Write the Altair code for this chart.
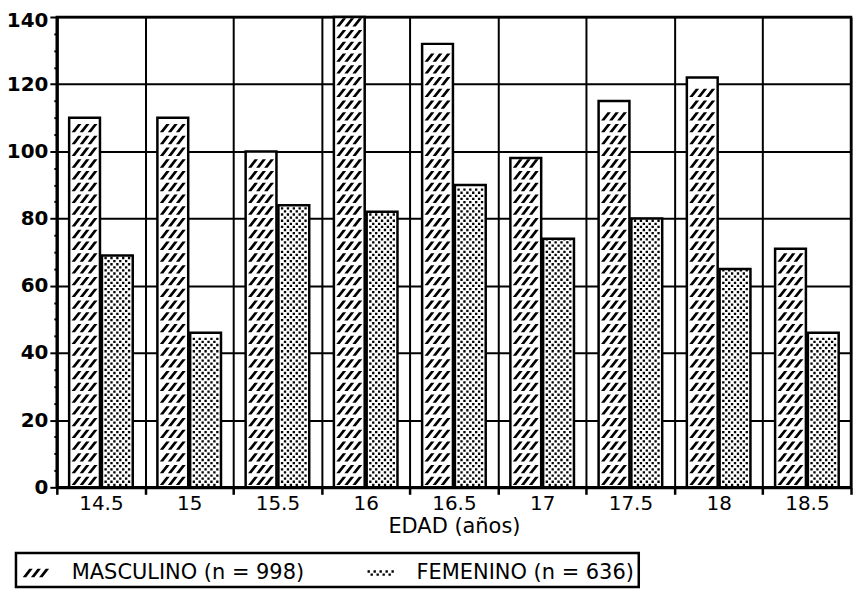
import altair as alt
import pandas as pd

# ---- data ----
edades = ["14.5", "15", "15.5", "16", "16.5", "17", "17.5", "18", "18.5"]
masculino = [110, 110, 100, 140, 132, 98, 115, 122, 71]
femenino = [69, 46, 84, 82, 90, 74, 80, 65, 46]
serie_m = "MASCULINO (n = 998)"
serie_f = "FEMENINO (n = 636)"
y_ticks = list(range(0, 141, 5))

rows = []
for e, m, f in zip(edades, masculino, femenino):
    rows.append({"edad": e, "sexo": serie_m, "valor": m})
    rows.append({"edad": e, "sexo": serie_f, "valor": f})
df = pd.DataFrame(rows)

FONT = "DejaVu Sans"


# ---- fill patterns as custom symbol paths (one row of pattern per symbol) ----
def dash(cx, w=0.11):
    return (f"M{cx-0.21-w:.3f},0.27L{cx-0.21+w:.3f},0.27L{cx+0.21+w:.3f},-0.27"
            f"L{cx+0.21-w:.3f},-0.27Z")


def dot(cx, cy, h=0.075):
    return f"M{cx-h:.3f},{cy-h:.3f}h{2*h:.3f}v{2*h:.3f}h{-2*h:.3f}Z"


hatch_path = "".join(dash(c) for c in (-0.52, 0.0, 0.52))
dots_path = "".join(dot(c, -0.1) for c in (-0.76, -0.38, 0.0, 0.38, 0.76)) + \
    "".join(dot(c, 0.1) for c in (-0.57, -0.19, 0.19, 0.57))

x_enc = alt.X(
    "edad:N",
    sort=edades,
    scale=alt.Scale(paddingInner=0, paddingOuter=0),
    axis=alt.Axis(
        tickBand="extent", grid=True, gridColor="black", gridWidth=2,
        gridOpacity=1, domainColor="black", domainWidth=3,
        tickColor="black", tickWidth=2.5, tickSize=7, labelAngle=0,
        labelFontSize=20, labelColor="black", labelPadding=-1,
        title="EDAD (años)", titleFontSize=21, titleFontWeight="normal",
        titleColor="black", titlePadding=2,
    ),
)
xoff_enc = alt.XOffset(
    "sexo:N", sort=[serie_m, serie_f],
    scale=alt.Scale(domain=[serie_m, serie_f], paddingInner=0.06, paddingOuter=0.376),
)

y_axis = alt.Axis(
    values=y_ticks,
    labelExpr="datum.value % 20 == 0 ? datum.label : ''",
    tickSize={"condition": {"test": "datum.value % 20 == 0", "value": 7}, "value": 3},
    gridOpacity={"condition": {"test": "datum.value % 20 == 0", "value": 1}, "value": 0},
    labelOffset={"condition": {"test": "datum.value == 140", "value": 4}, "value": 0},
    gridColor="black", gridWidth=2, domainColor="black", domainWidth=3,
    tickColor="black", tickWidth=2, labelFontSize=20, labelFontWeight="bold",
    labelColor="black", labelPadding=2, title=None,
)
y_scale = alt.Scale(domain=[0, 140], nice=False)

bars = alt.Chart(df).mark_bar(fill="white", stroke="black", strokeWidth=2.5).encode(
    x=x_enc,
    xOffset=xoff_enc,
    y=alt.Y("valor:Q", scale=y_scale, axis=y_axis),
)

pattern = alt.Chart(df).transform_calculate(
    ys=f"datum.sexo == '{serie_m}' ? sequence(1.9, datum.valor - 1.5, 3.5) "
       f": sequence(1.2, datum.valor - 0.6, 1.85)"
).transform_flatten(["ys"]).mark_point(
    filled=True, color="black", opacity=1, size=961, strokeWidth=0
).encode(
    x=x_enc,
    xOffset=xoff_enc,
    y=alt.Y("ys:Q", scale=y_scale, axis=y_axis),
    shape=alt.Shape(
        "sexo:N",
        scale=alt.Scale(domain=[serie_m, serie_f], range=[hatch_path, dots_path]),
        legend=alt.Legend(
            title=None, orient="none", legendX=-41, legendY=538,
            direction="horizontal", symbolSize=1000, symbolFillColor="black",
            symbolStrokeColor="black", symbolStrokeWidth=0, symbolOpacity=1,
            labelFontSize=21, labelColor="black", labelOffset=20,
            labelLimit=400, columnPadding=60, padding=4, strokeColor="black",
        ),
    ),
)

chart = alt.layer(bars, pattern).properties(
    width=797, height=472,
    autosize=alt.AutoSizeParams(type="none"),
    padding={"left": 49, "top": 8, "right": 3, "bottom": 102},
).configure_view(
    stroke="black", strokeWidth=2.5
).configure_axis(
    labelFont=FONT, titleFont=FONT
).configure_legend(
    labelFont=FONT, strokeWidth=2.5
)

chart.save("out.html", embed_options={"renderer": "svg", "actions": False})
